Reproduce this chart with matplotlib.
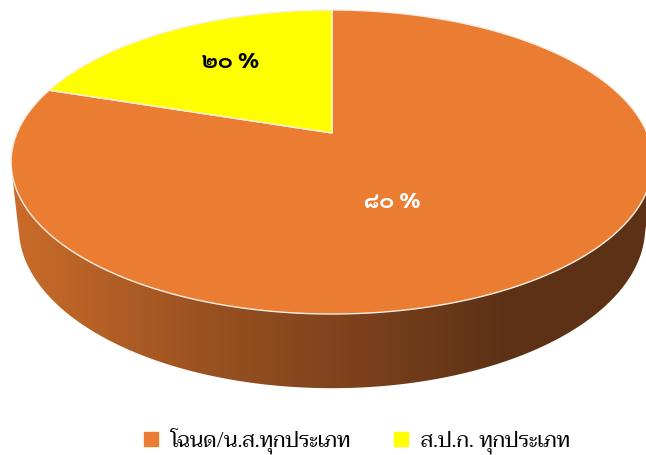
import numpy as np
import matplotlib.pyplot as plt
from matplotlib.patches import Polygon
from matplotlib.lines import Line2D

# ------- data -------
labels = ['โฉนด/น.ส.ทุกประเภท', 'ส.ป.ก. ทุกประเภท']
shares = [80, 20]
share_text = ['๘๐ %', '๒๐ %']
colors = ['#EA7D32', '#FFFF00']
text_colors = ['white', 'black']
label_xy = [(392, 203), (231, 62)]   # where the % labels sit (pixels)

# ------- view of the 3d pie -------
W, H = 646, 455
cx, cy = 332, 133          # pie centre on screen
scale = 315
sin_e, cos_e = 0.465, 0.8853
dist = 4.641
thick = 0.237


def project(theta, r=1.0, z=0.0):
    x = r * np.cos(theta)
    y = r * np.sin(theta)
    v = y * sin_e + z * cos_e
    w = y * cos_e - z * sin_e
    f = dist / (dist + w)
    return cx + scale * x * f, cy - scale * v * f


def hull(pts):
    pts = sorted(map(tuple, pts))
    def half(seq):
        out = []
        for p in seq:
            while len(out) >= 2 and ((out[-1][0] - out[-2][0]) * (p[1] - out[-2][1])
                                     - (out[-1][1] - out[-2][1]) * (p[0] - out[-2][0])) <= 0:
                out.pop()
            out.append(p)
        return out
    lo = half(pts)
    hi = half(pts[::-1])
    return np.array(lo[:-1] + hi[:-1])


fig = plt.figure(figsize=(6.46, 4.55), dpi=100)
ax = fig.add_axes([0, 0, 1, 1])
ax.set_xlim(0, W)
ax.set_ylim(H, 0)
ax.axis('off')

# side of the cylinder, shaded left -> right
t = np.linspace(0, 2 * np.pi, 400)
top = np.column_stack(project(t))
bot = np.column_stack(project(t, z=-thick))
body = Polygon(hull(np.vstack([top, bot])), closed=True, facecolor='none',
               edgecolor='none', transform=ax.transData)
ax.add_patch(body)

gx = [0, 10, 200, 340, 500, 646]
gc = np.array([[206, 110, 43], [203, 108, 42], [155, 82, 33], [127, 67, 29],
               [94, 50, 22], [92, 49, 21]]) / 255.0
xs = np.arange(W)
grad = np.stack([np.interp(xs, gx, gc[:, i]) for i in range(3)], axis=-1)[None, :, :]
im = ax.imshow(grad, extent=(0, W, H, 0), aspect='auto', zorder=1)
im.set_clip_path(body)

# top face wedges, first slice clockwise from 12 o'clock
start = np.pi / 2
for val, col in zip(shares, colors):
    end = start - 2 * np.pi * val / sum(shares)
    tt = np.linspace(start, end, 300)
    px, py = project(tt)
    verts = np.vstack([[cx, cy], np.column_stack([px, py])])
    ax.add_patch(Polygon(verts, closed=True, facecolor=col, edgecolor='#FBEFE6',
                         linewidth=1.0, zorder=3))
    start = end

for (lx, ly), s, tc in zip(label_xy, share_text, text_colors):
    ax.text(lx, ly, s, color=tc, fontsize=16, fontweight='bold',
            family='Sarabun', ha='center', va='center', zorder=5)

handles = [Line2D([], [], marker='s', linestyle='', color=c, markersize=10.5)
           for c in colors]
fig.legend(handles, labels, loc='center', bbox_to_anchor=(355 / W, 1 - 441 / H),
           ncol=2, frameon=False, prop={'family': 'Taviraj', 'size': 15},
           handlelength=1.0, handletextpad=0.45, columnspacing=1.9)

fig.savefig('out.png', dpi=100)
